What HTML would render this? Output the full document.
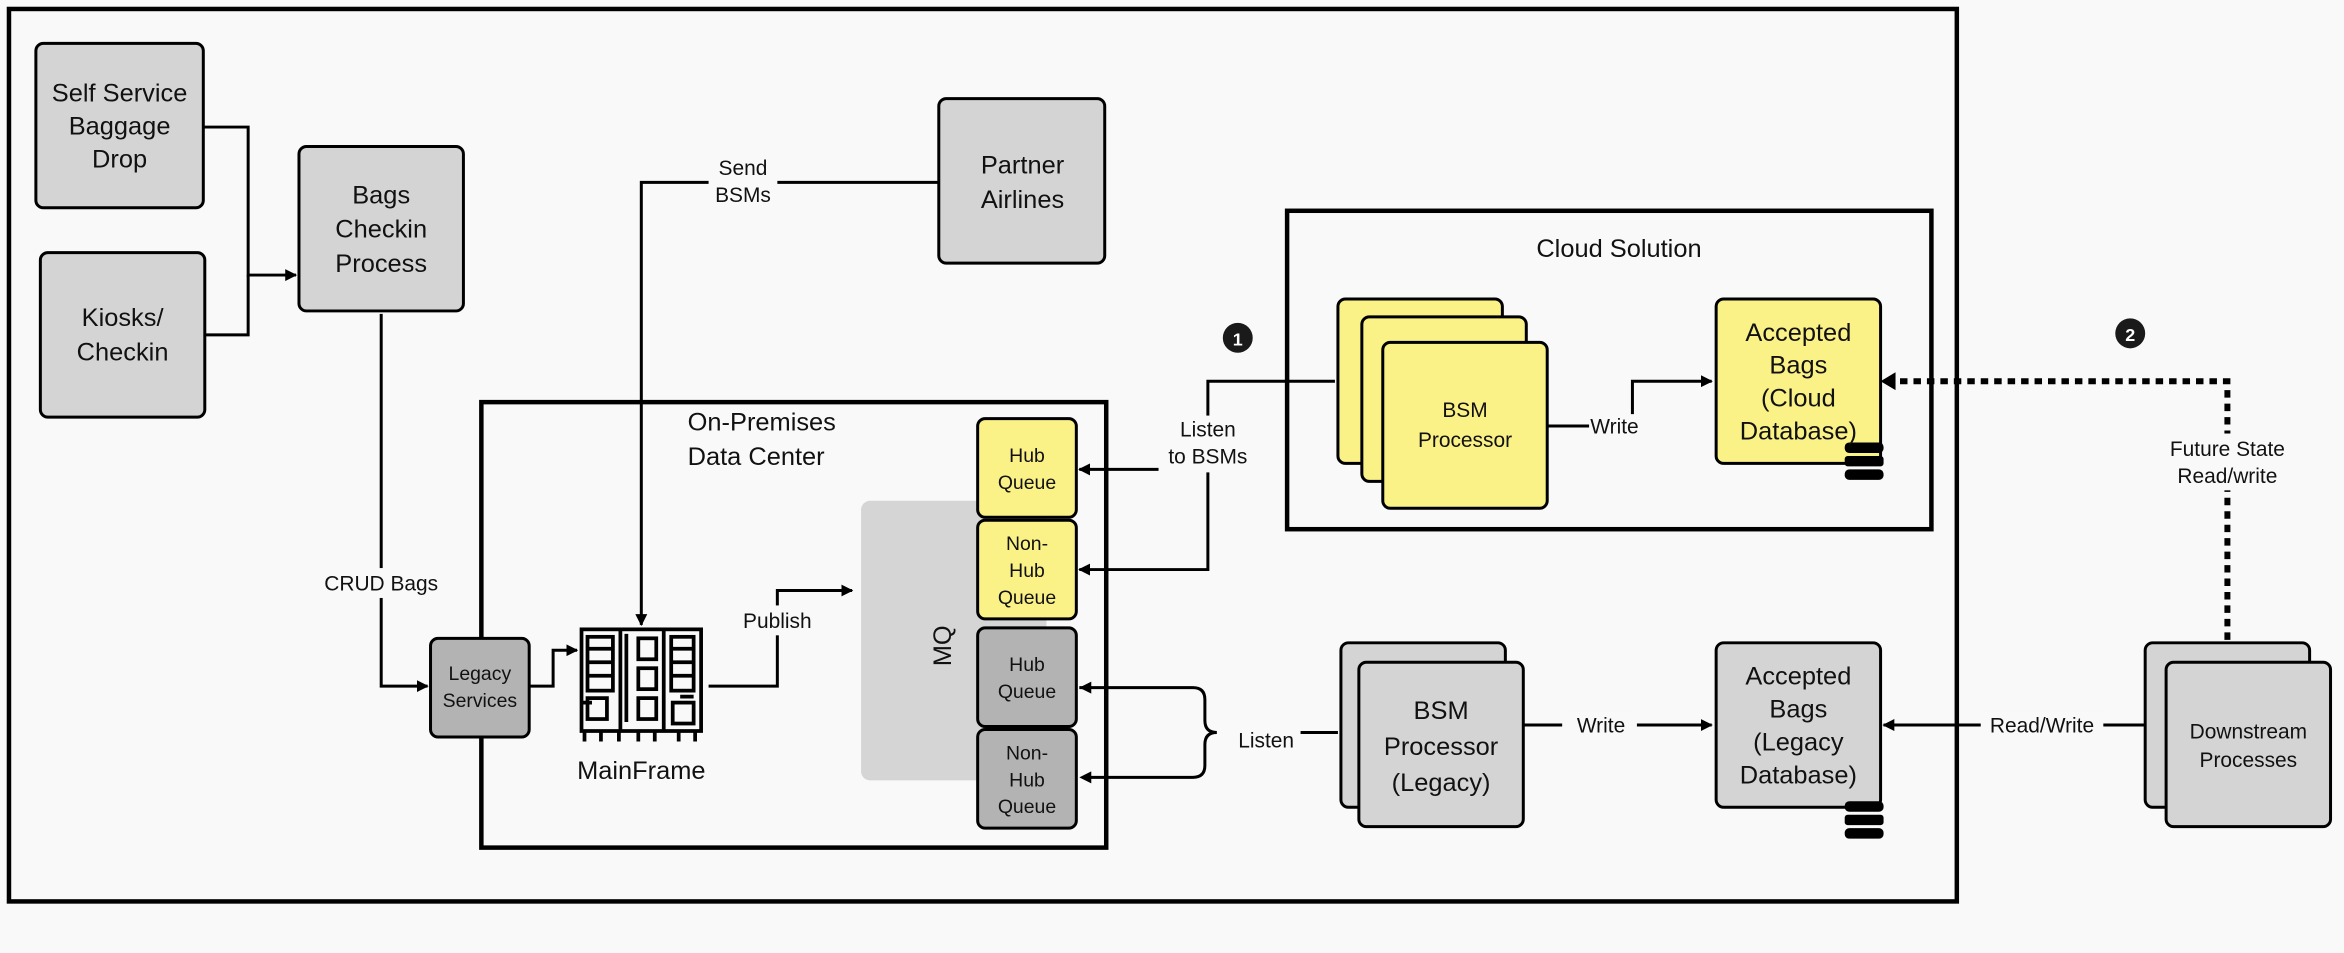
<!DOCTYPE html>
<html><head><meta charset="utf-8"><style>
html,body{margin:0;padding:0;background:#f9f9f9;}
svg{display:block;font-family:"Liberation Sans",sans-serif;}
</style></head><body>
<svg width="2344" height="953" viewBox="0 0 1568 637.5" xmlns="http://www.w3.org/2000/svg">
<defs>
<marker id="a" viewBox="0 0 10 10" refX="9" refY="5" markerWidth="4" markerHeight="4" orient="auto"><path d="M0,0L10,5L0,10z" fill="#000"/></marker>
</defs>
<rect width="1568" height="637.5" fill="#f9f9f9"/>
<rect x="6" y="6" width="1303" height="597" fill="none" stroke="#000" stroke-width="3"/>
<rect x="861" y="141" width="431" height="213" fill="none" stroke="#000" stroke-width="3"/>
<rect x="322" y="269" width="418" height="298" fill="none" stroke="#000" stroke-width="3"/>
<rect x="576" y="335" width="124" height="187" rx="6" fill="#d5d5d5"/>

<g stroke="#000" stroke-width="2" fill="none">
<path d="M136,85H166V184H198" marker-end="url(#a)"/>
<path d="M137,224H166V184"/>
<path d="M255,210V459H286" marker-end="url(#a)"/>
<path d="M354,459H370V435H386" marker-end="url(#a)"/>
<path d="M628,122H429V418" marker-end="url(#a)"/>
<path d="M474,459H520V395H570" marker-end="url(#a)"/>
<path d="M893,255H808V381H722" marker-end="url(#a)"/>
<path d="M808,314H722" marker-end="url(#a)"/>
<path d="M1035,285H1063"/>
<path d="M1092,277V255H1145" marker-end="url(#a)"/>
<path d="M722,460H798Q806,460 806,468V482Q806,490 814,490Q806,490 806,498V512Q806,520 798,520H726" />
<path d="M870,490H895"/>
<path d="M1019,485H1145" marker-end="url(#a)"/>
<path d="M1435,485H1260" marker-end="url(#a)"/>
<path d="M1490,428V255H1268" stroke-width="4" stroke-dasharray="5,4"/>
</g>
<path d="M722,520L730,516V524z M722,460L730,456V464z M1258,255L1268,249V261z" fill="#000"/>

<g stroke="#000" stroke-width="2">
<rect x="24" y="29" width="112" height="110" rx="5" fill="#d4d4d4"/>
<rect x="27" y="169" width="110" height="110" rx="5" fill="#d4d4d4"/>
<rect x="200" y="98" width="110" height="110" rx="5" fill="#d4d4d4"/>
<rect x="628" y="66" width="111" height="110" rx="5" fill="#d4d4d4"/>
<rect x="895" y="200" width="110" height="110" rx="5" fill="#fbf287"/>
<rect x="911" y="212" width="110" height="110" rx="5" fill="#fbf287"/>
<rect x="925" y="229" width="110" height="111" rx="5" fill="#fbf287"/>
<rect x="1148" y="200" width="110" height="110" rx="5" fill="#fbf287"/>
<rect x="654" y="280" width="66" height="66" rx="5" fill="#fbf287"/>
<rect x="654" y="348" width="66" height="66" rx="5" fill="#fbf287"/>
<rect x="654" y="420" width="66" height="66" rx="5" fill="#b3b3b3"/>
<rect x="654" y="488" width="66" height="66" rx="5" fill="#b3b3b3"/>
<rect x="288" y="427" width="66" height="66" rx="5" fill="#b3b3b3"/>
<rect x="897" y="430" width="110" height="110" rx="5" fill="#d4d4d4"/>
<rect x="909" y="443" width="110" height="110" rx="5" fill="#d4d4d4"/>
<rect x="1148" y="430" width="110" height="110" rx="5" fill="#d4d4d4"/>
<rect x="1435" y="430" width="110" height="110" rx="5" fill="#d4d4d4"/>
<rect x="1449" y="443" width="110" height="110" rx="5" fill="#d4d4d4"/>
</g>

<g fill="#000">
<rect x="1234" y="296" width="26" height="7" rx="3"/><rect x="1234" y="305" width="26" height="7" rx="2"/><rect x="1234" y="314" width="26" height="7" rx="3"/>
<rect x="1234" y="536" width="26" height="7" rx="3"/><rect x="1234" y="545" width="26" height="7" rx="2"/><rect x="1234" y="554" width="26" height="7" rx="3"/>
</g>

<g stroke="#000" stroke-width="2.5" fill="none">
<rect x="389" y="421" width="80" height="68"/>
<line x1="415" y1="421" x2="415" y2="489"/><line x1="444" y1="421" x2="444" y2="489"/>
<rect x="393" y="426" width="17" height="36"/><line x1="393" y1="434" x2="410" y2="434"/><line x1="393" y1="443" x2="410" y2="443"/><line x1="393" y1="452" x2="410" y2="452"/>
<rect x="449" y="426" width="15" height="36"/><line x1="449" y1="434" x2="464" y2="434"/><line x1="449" y1="443" x2="464" y2="443"/><line x1="449" y1="452" x2="464" y2="452"/>
<rect x="427" y="427" width="12" height="14"/><rect x="427" y="447" width="12" height="14"/><rect x="427" y="467" width="12" height="14"/>
<rect x="393" y="467" width="13" height="14"/><rect x="450" y="470" width="14" height="14"/>
<path d="M419,424V483M389,470H396M464,466H455"/>
<path d="M391,489V496M402,489V496M414,489V496M427,489V496M438,489V496M454,489V496M465,489V496"/>
</g>

<circle cx="828" cy="226" r="10" fill="#1a1a1a"/><text x="828" y="231" font-size="12" font-weight="bold" fill="#fff" text-anchor="middle">1</text>
<circle cx="1425" cy="223" r="10" fill="#1a1a1a"/><text x="1425" y="228" font-size="12" font-weight="bold" fill="#fff" text-anchor="middle">2</text>

<g fill="#f9f9f9">
<rect x="212" y="380" width="86" height="20"/>
<rect x="474" y="102" width="46" height="38"/>
<rect x="493" y="405" width="55" height="20"/>
<rect x="775" y="278" width="66" height="38"/>
<rect x="1045" y="476" width="50" height="18"/>
<rect x="1325" y="476" width="82" height="18"/>
<rect x="1444" y="290" width="94" height="38"/>
</g>

<g font-size="17" text-anchor="middle" fill="#111">
<text x="80" y="68">Self Service</text><text x="80" y="90">Baggage</text><text x="80" y="112">Drop</text>
<text x="82" y="218">Kiosks/</text><text x="82" y="241">Checkin</text>
<text x="255" y="136">Bags</text><text x="255" y="159">Checkin</text><text x="255" y="182">Process</text>
<text x="684" y="116">Partner</text><text x="684" y="139">Airlines</text>
<text x="1203" y="228">Accepted</text><text x="1203" y="250">Bags</text><text x="1203" y="272">(Cloud</text><text x="1203" y="294">Database)</text>
<text x="1203" y="458">Accepted</text><text x="1203" y="480">Bags</text><text x="1203" y="502">(Legacy</text><text x="1203" y="524">Database)</text>
<text x="964" y="481">BSM</text><text x="964" y="505">Processor</text><text x="964" y="529">(Legacy)</text>
<text x="1083" y="172">Cloud Solution</text>
<text x="429" y="521">MainFrame</text>
<text x="460" y="288" text-anchor="start">On-Premises</text><text x="460" y="311" text-anchor="start">Data Center</text>
</g>
<g font-size="14" text-anchor="middle" fill="#111">
<text x="255" y="395">CRUD Bags</text>
<text x="497" y="117">Send</text><text x="497" y="135">BSMs</text>
<text x="520" y="420">Publish</text>
<text x="808" y="292">Listen</text><text x="808" y="310">to BSMs</text>
<text x="1080" y="290">Write</text>
<text x="1071" y="490">Write</text>
<text x="1366" y="490">Read/Write</text>
<text x="847" y="500">Listen</text>
<text x="1490" y="305">Future State</text><text x="1490" y="323">Read/write</text>
<text x="980" y="279">BSM</text><text x="980" y="299">Processor</text>
<text x="1504" y="494">Downstream</text><text x="1504" y="513">Processes</text>
</g>
<g font-size="13" text-anchor="middle" fill="#111">
<text x="687" y="309">Hub</text><text x="687" y="327">Queue</text>
<text x="687" y="368">Non-</text><text x="687" y="386">Hub</text><text x="687" y="404">Queue</text>
<text x="687" y="449">Hub</text><text x="687" y="467">Queue</text>
<text x="687" y="508">Non-</text><text x="687" y="526">Hub</text><text x="687" y="544">Queue</text>
<text x="321" y="455">Legacy</text><text x="321" y="473">Services</text>
</g>
<text x="0" y="0" font-size="17" text-anchor="middle" fill="#111" transform="translate(636,432) rotate(-90)">MQ</text>
</svg>
</body></html>
